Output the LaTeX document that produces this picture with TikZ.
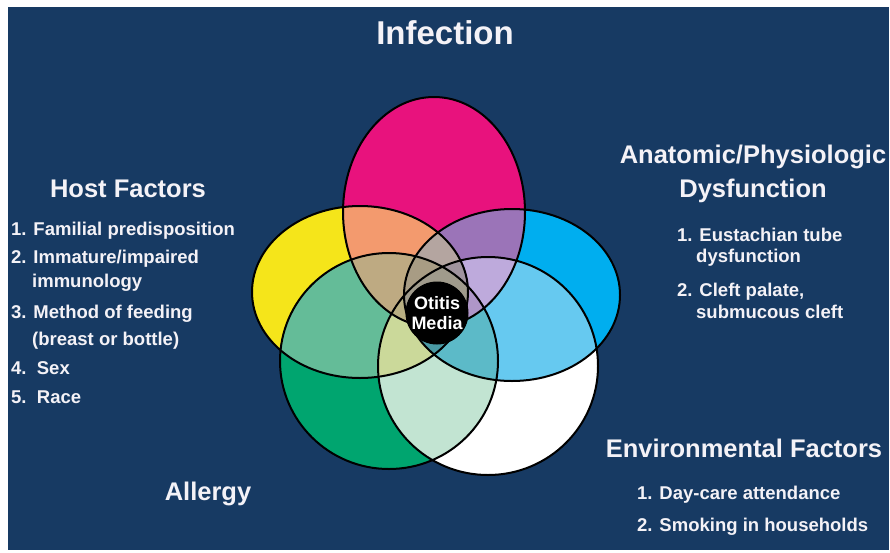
\documentclass[tikz,border=0pt]{standalone}
\usepackage{fontspec}
\setmainfont{Liberation Sans}
\definecolor{bg}{HTML}{173A63}
\definecolor{fg}{HTML}{F4F2F7}
\definecolor{cP}{HTML}{E8127D}
\definecolor{cY}{HTML}{F5E51A}
\definecolor{cC}{HTML}{00AEEF}
\definecolor{cG}{HTML}{00A56F}
\definecolor{cW}{HTML}{FFFFFF}
\definecolor{cPY}{HTML}{F39A6E}
\definecolor{cPC}{HTML}{9B74B8}
\definecolor{cPG}{HTML}{B4A082}
\definecolor{cPW}{HTML}{D4A3CF}
\definecolor{cYC}{HTML}{A5D37D}
\definecolor{cYG}{HTML}{64BC98}
\definecolor{cYW}{HTML}{E3E8A0}
\definecolor{cCG}{HTML}{3FB5B0}
\definecolor{cCW}{HTML}{66C9F0}
\definecolor{cGW}{HTML}{C2E4D2}
\definecolor{cPYC}{HTML}{B4A5A0}
\definecolor{cPYG}{HTML}{BEAA82}
\definecolor{cPYW}{HTML}{D2BE96}
\definecolor{cPCG}{HTML}{8C9AB4}
\definecolor{cPCW}{HTML}{BEAADC}
\definecolor{cPGW}{HTML}{BEB4A5}
\definecolor{cYCG}{HTML}{78B8A0}
\definecolor{cYCW}{HTML}{96C8C8}
\definecolor{cYGW}{HTML}{CBD99A}
\definecolor{cCGW}{HTML}{5CBAC8}
\definecolor{cPYCG}{HTML}{A89C84}
\definecolor{cPYCW}{HTML}{A0949E}
\definecolor{cPYGW}{HTML}{B9AF82}
\definecolor{cPCGW}{HTML}{AF96C8}
\definecolor{cYCGW}{HTML}{4A9AA5}
\definecolor{cPYCGW}{HTML}{A09B8C}
\tikzset{
  eP/.style={shift={(434,212)}}, rP/.style={x radius=91,y radius=115},
  eY/.style={shift={(360,292)}}, rY/.style={x radius=108,y radius=86},
  eC/.style={shift={(512,295)}}, rC/.style={x radius=108,y radius=86},
  eG/.style={shift={(389,361)}}, rG/.style={x radius=109,y radius=108},
  eW/.style={shift={(488,366)}}, rW/.style={x radius=110,y radius=109},
  outl/.style={draw=black,line width=2pt},
  txt/.style={text=fg,inner sep=0pt},
  fA/.style={font=\fontsize{33}{36}\selectfont\bfseries},
  fB/.style={font=\fontsize{25.5}{28}\selectfont\bfseries},
  fC/.style={font=\fontsize{18.5}{21}\selectfont\bfseries},
}
\newcommand\Cl[1]{\clip[e#1] (0,0) ellipse[r#1];}
\newcommand\Reg[2]{\begin{scope}#1\fill[#2] (150,50) rectangle (700,520);\end{scope}}
\newcommand\Out[1]{\draw[outl,e#1] (0,0) ellipse[r#1];}
\begin{document}
\begin{tikzpicture}[x=1pt,y=-1pt]
\useasboundingbox (0,0) rectangle (890,552);
\fill[white] (0,0) rectangle (890,552);
\fill[bg] (8,7) rectangle (889,550);
% single regions
\Reg{\Cl{P}}{cP}
\Reg{\Cl{Y}}{cY}
\Reg{\Cl{C}}{cC}
\Reg{\Cl{G}}{cG}
\Reg{\Cl{W}}{cW}
% pairs
\Reg{\Cl{P}\Cl{Y}}{cPY}
\Reg{\Cl{P}\Cl{C}}{cPC}
\Reg{\Cl{P}\Cl{G}}{cPG}
\Reg{\Cl{P}\Cl{W}}{cPW}
\Reg{\Cl{Y}\Cl{C}}{cYC}
\Reg{\Cl{Y}\Cl{G}}{cYG}
\Reg{\Cl{Y}\Cl{W}}{cYW}
\Reg{\Cl{C}\Cl{G}}{cCG}
\Reg{\Cl{C}\Cl{W}}{cCW}
\Reg{\Cl{G}\Cl{W}}{cGW}
% triples
\Reg{\Cl{P}\Cl{Y}\Cl{C}}{cPYC}
\Reg{\Cl{P}\Cl{Y}\Cl{G}}{cPYG}
\Reg{\Cl{P}\Cl{Y}\Cl{W}}{cPYW}
\Reg{\Cl{P}\Cl{C}\Cl{G}}{cPCG}
\Reg{\Cl{P}\Cl{C}\Cl{W}}{cPCW}
\Reg{\Cl{P}\Cl{G}\Cl{W}}{cPGW}
\Reg{\Cl{Y}\Cl{C}\Cl{G}}{cYCG}
\Reg{\Cl{Y}\Cl{C}\Cl{W}}{cYCW}
\Reg{\Cl{Y}\Cl{G}\Cl{W}}{cYGW}
\Reg{\Cl{C}\Cl{G}\Cl{W}}{cCGW}
% quads
\Reg{\Cl{P}\Cl{Y}\Cl{C}\Cl{G}}{cPYCG}
\Reg{\Cl{P}\Cl{Y}\Cl{C}\Cl{W}}{cPYCW}
\Reg{\Cl{P}\Cl{Y}\Cl{G}\Cl{W}}{cPYGW}
\Reg{\Cl{P}\Cl{C}\Cl{G}\Cl{W}}{cPCGW}
\Reg{\Cl{Y}\Cl{C}\Cl{G}\Cl{W}}{cYCGW}
\Reg{\Cl{P}\Cl{Y}\Cl{C}\Cl{G}\Cl{W}}{cPYCGW}
% outlines
\Out{P}\Out{Y}\Out{C}\Out{G}\Out{W}
% centre
\node[circle,fill=black,draw=black,line width=1pt,minimum size=62pt,inner sep=0pt,align=center,text=white,
      font=\fontsize{18}{20}\selectfont\bfseries] (om) at (437,313) {Otitis\\Media};
% headings
\node[txt,fA,anchor=base] (inf) at (445,44) {Infection};
\node[txt,fB,anchor=base] (host) at (128,197) {Host Factors};
\node[txt,fB,anchor=base] (anat) at (753,163) {Anatomic/Physiologic};
\node[txt,fB,anchor=base] (dys) at (753,197) {Dysfunction};
\node[txt,fB,anchor=base] (env) at (744,457) {Environmental Factors};
\node[txt,fB,anchor=base] (all) at (208,500) {Allergy};
% host list
\node[txt,fC,anchor=base west] (h1) at (11,235) {1. Familial predisposition};
\node[txt,fC,anchor=base west] (h2) at (11,263) {2. Immature/impaired};
\node[txt,fC,anchor=base west] (h2b) at (32,287) {immunology};
\node[txt,fC,anchor=base west] (h3) at (11,318) {3. Method of feeding};
\node[txt,fC,anchor=base west] (h3b) at (32,345) {(breast or bottle)};
\node[txt,fC,anchor=base west] (h4) at (11,374) {4.~~Sex};
\node[txt,fC,anchor=base west] (h5) at (11,403) {5.~~Race};
% anatomic list
\node[txt,fC,anchor=base west] (a1) at (677,241) {1. Eustachian tube};
\node[txt,fC,anchor=base west] (a1b) at (696,262) {dysfunction};
\node[txt,fC,anchor=base west] (a2) at (677,296) {2. Cleft palate,};
\node[txt,fC,anchor=base west] (a2b) at (696,318) {submucous cleft};
% environmental list
\node[txt,fC,anchor=base west] (e1) at (637,499) {1. Day-care attendance};
\node[txt,fC,anchor=base west] (e2) at (637,531) {2. Smoking in households};
\end{tikzpicture}
\end{document}
